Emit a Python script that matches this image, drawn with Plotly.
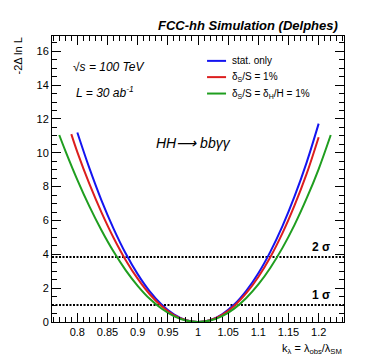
import plotly.graph_objects as go

# kappa_lambda scan points and -2 Delta ln L
k_stat = [0.80, 0.82, 0.84, 0.86, 0.88, 0.90, 0.92, 0.94, 0.96, 0.98, 1.00,
          1.02, 1.04, 1.06, 1.08, 1.10, 1.12, 1.14, 1.16, 1.18, 1.20]
nll_stat = [11.20, 9.09, 7.19, 5.52, 4.06, 2.83, 1.81, 1.02, 0.45, 0.11, 0.0,
            0.11, 0.46, 1.03, 1.84, 2.88, 4.16, 5.67, 7.42, 9.42, 11.72]

k_syst_s = [0.79, 0.80, 0.82, 0.84, 0.86, 0.88, 0.90, 0.92, 0.94, 0.96, 0.98, 1.00,
            1.02, 1.04, 1.06, 1.08, 1.10, 1.12, 1.14, 1.16, 1.18, 1.20]
nll_syst_s = [11.10, 10.04, 8.16, 6.48, 4.98, 3.67, 2.56, 1.64, 0.93, 0.41, 0.10, 0.0,
              0.105, 0.42, 0.95, 1.70, 2.66, 3.84, 5.25, 6.89, 8.75, 10.92]

k_syst_sh = [0.77, 0.78, 0.80, 0.82, 0.84, 0.86, 0.88, 0.90, 0.92, 0.94, 0.96, 0.98, 1.00,
             1.02, 1.04, 1.06, 1.08, 1.10, 1.12, 1.14, 1.16, 1.18, 1.20, 1.22]
nll_syst_sh = [11.05, 10.13, 8.40, 6.83, 5.42, 4.16, 3.07, 2.14, 1.37, 0.78, 0.35, 0.087, 0.0,
               0.088, 0.35, 0.79, 1.42, 2.22, 3.21, 4.38, 5.74, 7.30, 9.04, 11.05]

series_names = ["stat. only", "δ<sub>S</sub>/S = 1%", "δ<sub>S</sub>/S = δ<sub>H</sub>/H = 1%"]
series_colors = ["#1414f0", "#dc1e1e", "#1f9e1f"]

sigma_levels = [1.0, 3.84]
sigma_labels = ["1 σ", "2 σ"]

FONT = "Liberation Sans, Arial, sans-serif"

fig = go.Figure()
for k, v, name, col in zip([k_stat, k_syst_s, k_syst_sh],
                           [nll_stat, nll_syst_s, nll_syst_sh],
                           series_names, series_colors):
    fig.add_trace(go.Scatter(x=k, y=v, mode="lines", name=name,
                             line=dict(color=col, width=2, shape="spline", smoothing=1.0),
                             showlegend=False))

# dotted 1 sigma / 2 sigma lines
for lvl, lab in zip(sigma_levels, sigma_labels):
    fig.add_shape(type="line", xref="paper", x0=0, x1=1, y0=lvl, y1=lvl,
                  line=dict(color="black", width=2, dash="2px,1.5px"), layer="below")
    fig.add_annotation(x=1.2225, y=lvl + 0.6, text="<b>" + lab + "</b>", showarrow=False,
                       xanchor="right", yanchor="middle", font=dict(size=12, color="black"))

# hand-made legend
legend_y = [15.43, 14.47, 13.50]
for ly, name, col in zip(legend_y, series_names, series_colors):
    fig.add_shape(type="line", x0=1.015, x1=1.0465, y0=ly, y1=ly,
                  line=dict(color=col, width=2))
    fig.add_annotation(x=1.0525, y=ly, text=name, showarrow=False, xanchor="left",
                       yanchor="middle", font=dict(size=10, color="black"))

# labels inside the frame
fig.add_annotation(x=0.790, y=15.08, text="<i>√s = 100 TeV</i>", showarrow=False,
                   xanchor="left", yanchor="middle", font=dict(size=12))
fig.add_annotation(x=0.795, y=13.6, text="<i>L = 30 ab<sup>-1</sup></i>", showarrow=False,
                   xanchor="left", yanchor="middle", font=dict(size=12))
fig.add_annotation(x=0.927, y=10.58, text="<i>HH⟶ bbγγ</i>", showarrow=False,
                   xanchor="left", yanchor="middle", font=dict(size=14))

# title and axis titles
fig.add_annotation(xref="paper", yref="paper", x=0.987, y=1.036,
                   text="<b><i>FCC-hh Simulation (Delphes)</i></b>", showarrow=False,
                   xanchor="right", yanchor="middle", font=dict(size=13))
fig.add_annotation(xref="paper", yref="paper", x=-0.117, y=1.003, text="-2Δ ln L",
                   textangle=-90, showarrow=False, xanchor="center", yanchor="top",
                   font=dict(size=11))
fig.add_annotation(xref="paper", yref="paper", x=1.0, y=-0.093,
                   text="k<sub>λ</sub> = λ<sub>obs</sub>/λ<sub>SM</sub>", showarrow=False,
                   xanchor="right", yanchor="middle", font=dict(size=11))

axis_common = dict(showline=True, linecolor="black", linewidth=1, mirror="ticks",
                   ticks="inside", ticklen=9, tickcolor="black", tickwidth=1,
                   showgrid=False, zeroline=False, tickfont=dict(size=11, color="black"))

fig.update_xaxes(range=[0.758, 1.242], tick0=0.8, dtick=0.05,
                 minor=dict(dtick=0.01, ticks="inside", ticklen=5, tickcolor="black"),
                 **axis_common)
fig.update_yaxes(range=[0, 16.9], tick0=0, dtick=2,
                 minor=dict(dtick=0.5, ticks="inside", ticklen=5, tickcolor="black"),
                 **axis_common)

fig.update_layout(
    width=374, height=359,
    margin=dict(l=52, r=30, t=36, b=37),
    paper_bgcolor="white", plot_bgcolor="white",
    font=dict(family=FONT, color="black"),
    showlegend=False,
)

# drop the browser's default body margin so the figure sits at the window corner
fig.write_html("out.html",
               config={"displayModeBar": False},
               post_script="document.body.style.margin='0';document.body.style.overflow='hidden';")
